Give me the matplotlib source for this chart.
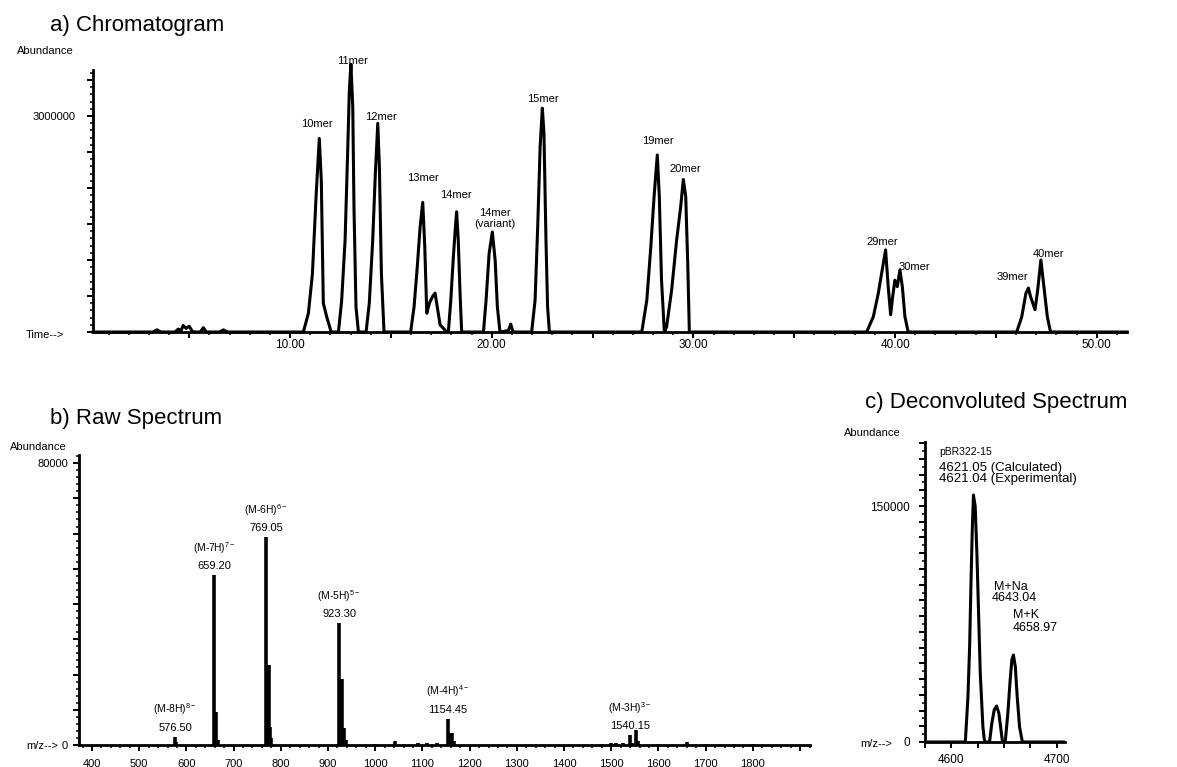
import matplotlib.pyplot as plt
from matplotlib.ticker import MultipleLocator, FuncFormatter

plt.rcParams['font.family'] = ['Liberation Sans', 'DejaVu Sans']
plt.rcParams['mathtext.default'] = 'regular'

W, H = 1177, 767

# a) total ion chromatogram: retention time (min), abundance (millions)
rt = [0.23, 3.2, 3.4, 3.6, 4.3, 4.45, 4.6, 4.7, 4.85, 5.0, 5.15, 5.3,
      5.55, 5.7, 5.85, 6.5, 6.7, 6.9,
      10.66, 10.91, 11.11, 11.29, 11.45, 11.55, 11.65, 11.82, 12.04,
      12.40, 12.56, 12.73, 12.86, 12.94, 13.02, 13.11, 13.17, 13.27, 13.39,
      13.77, 13.93, 14.10, 14.23, 14.35, 14.43, 14.53, 14.66,
      15.98, 16.15, 16.31, 16.45, 16.58, 16.68, 16.78, 16.91, 17.06, 17.19, 17.30, 17.44, 17.77,
      17.85, 17.97, 18.10, 18.20, 18.26, 18.34, 18.43, 18.51,
      19.59, 19.72, 19.87, 20.03, 20.17, 20.28, 20.41, 20.83, 20.94, 21.06,
      21.98, 22.15, 22.28, 22.40, 22.51, 22.59, 22.69, 22.77, 22.86,
      27.44, 27.69, 27.89, 28.05, 28.21, 28.31, 28.42, 28.56,
      28.67, 28.92, 29.17, 29.37, 29.50, 29.62, 29.72, 29.80,
      38.59, 38.92, 39.17, 39.33, 39.53, 39.66, 39.78, 39.88, 39.99, 40.11, 40.24, 40.36, 40.49, 40.65,
      46.03, 46.28, 46.49, 46.61, 46.72, 46.94, 47.07, 47.23, 47.38, 47.55, 47.71,
      51.5]
tic = [0, 0, 0.03, 0, 0, 0.04, 0.02, 0.09, 0.05, 0.08, 0.01, 0,
       0, 0.06, 0, 0, 0.03, 0,
       0, 0.26, 0.81, 1.88, 2.69, 2.11, 0.40, 0.21, 0,
       0, 0.44, 1.28, 2.53, 3.36, 3.72, 3.13, 1.74, 0.35, 0,
       0, 0.40, 1.28, 2.20, 2.90, 2.30, 0.81, 0,
       0, 0.35, 0.91, 1.46, 1.80, 1.19, 0.26, 0.40, 0.49, 0.54, 0.35, 0.10, 0,
       0, 0.44, 1.05, 1.46, 1.67, 1.28, 0.54, 0,
       0, 0.44, 1.09, 1.39, 1.00, 0.35, 0, 0.02, 0.11, 0,
       0, 0.44, 1.46, 2.57, 3.11, 2.76, 1.28, 0.35, 0,
       0, 0.44, 1.19, 1.88, 2.46, 1.88, 0.72, 0,
       0.07, 0.58, 1.28, 1.74, 2.12, 1.88, 0.95, 0,
       0, 0.21, 0.54, 0.81, 1.14, 0.63, 0.24, 0.49, 0.72, 0.63, 0.86, 0.63, 0.21, 0,
       0, 0.21, 0.54, 0.61, 0.49, 0.31, 0.58, 1.00, 0.63, 0.21, 0,
       0]

mer_names = ['10mer', '11mer', '12mer', '13mer', '14mer', '14mer\n(variant)', '15mer',
             '19mer', '20mer', '29mer', '30mer', '39mer', '40mer']
mer_rt = [11.34, 13.09, 14.53, 16.61, 18.23, 20.16, 22.55, 28.25, 29.59, 39.36, 40.96, 45.8, 47.6]
mer_y = [2.89, 3.76, 2.99, 2.14, 1.90, 1.58, 3.24, 2.65, 2.26, 1.25, 0.90, 0.76, 1.08]

# b) raw spectrum sticks
raw_mz = [576.5, 579.0,
          659.2, 663.0, 666.0,
          769.05, 771.5, 774.0, 777.0, 780.0,
          923.3, 927.0, 930.0, 934.0, 938.0,
          1000, 1041, 1060, 1090, 1110, 1130,
          1154.45, 1158, 1162, 1166,
          1480, 1500, 1510, 1525,
          1540.15, 1544, 1552.5, 1557,
          1600, 1660, 1700, 1760, 1800]
raw_abund = [2300, 800,
             48200, 9400, 1500,
             59000, 22700, 22700, 5000, 2000,
             34600, 18700, 18700, 4800, 1500,
             300, 1200, 400, 500, 600, 700,
             7400, 3400, 3400, 1200,
             400, 500, 600, 500,
             2800, 600, 4300, 1000,
             300, 900, 300, 250, 250]

ion_names = ['(M-8H)$^{8-}$', '(M-7H)$^{7-}$', '(M-6H)$^{6-}$',
             '(M-5H)$^{5-}$', '(M-4H)$^{4-}$', '(M-3H)$^{3-}$']
ion_mz = [576.50, 659.20, 769.05, 923.30, 1154.45, 1540.15]

# c) deconvoluted spectrum
dec_mz = [4575, 4613.3, 4615.8, 4617.4, 4618.6, 4619.9, 4621.04, 4622.7, 4624.3, 4625.9,
          4627.5, 4630.0, 4631.6,
          4636.3, 4638.5, 4640.7, 4643.04, 4645.2, 4647.2, 4648.6,
          4651.2, 4653.7, 4655.9, 4657.5, 4658.97, 4660.8, 4662.6, 4664.8, 4667.5,
          4708]
dec_abund = [0, 0, 28800, 60600, 98700, 134700, 157000, 149600, 119900, 81800,
             43600, 9700, 0,
             0, 11900, 20300, 22900, 18200, 7600, 0,
             0, 18200, 39400, 52100, 55300, 47900, 28800, 9700, 0,
             0]


def px_axes(x0, y0, x1, y1):
    return fig.add_axes([x0 / W, 1 - y1 / H, (x1 - x0) / W, (y1 - y0) / H])


def style(ax, ypad, xpad):
    for s in ['top', 'right']:
        ax.spines[s].set_visible(False)
    for s in ['left', 'bottom']:
        ax.spines[s].set_linewidth(2.0)
    ax.tick_params(which='major', direction='out', length=4, width=1.4, labelsize=8)
    ax.tick_params(which='minor', direction='out', length=2.5, width=1.1)
    ax.tick_params(axis='y', pad=ypad)
    ax.tick_params(axis='x', pad=xpad)


fig = plt.figure(figsize=(W / 100, H / 100), dpi=100)

# ---- a) Chromatogram
ax1 = px_axes(93, 70, 1127, 332)
ax1.plot(rt, [v * 1e6 for v in tic], color='black', lw=2.2, clip_on=False, zorder=3)
ax1.set_xlim(0.23, 51.5)
ax1.set_ylim(0, 3.64e6)
style(ax1, 8.9, 1.0)
ax1.xaxis.set_major_locator(MultipleLocator(5))
ax1.xaxis.set_minor_locator(MultipleLocator(1))
ax1.xaxis.set_major_formatter(FuncFormatter(lambda v, p: f"{v:.2f}" if round(v) % 10 == 0 else ""))
ax1.yaxis.set_major_locator(MultipleLocator(500000))
ax1.yaxis.set_minor_locator(MultipleLocator(100000))
ax1.yaxis.set_major_formatter(FuncFormatter(lambda v, p: "3000000" if abs(v - 3e6) < 1 else ""))
ax1.tick_params(axis='x', labelsize=8.5)
for name, x, y in zip(mer_names, mer_rt, mer_y):
    ax1.text(x, y * 1e6, name, ha='center', va='center', fontsize=8, linespacing=1.1)

fig.text(50 / W, 1 - 31 / H, 'a) Chromatogram', fontsize=16, va='baseline')
fig.text(45 / W, 1 - 51 / H, 'Abundance', fontsize=8, ha='center', va='center')
fig.text(45 / W, 1 - 335 / H, 'Time-->', fontsize=8, ha='center', va='center')

# ---- b) Raw spectrum
ax2 = px_axes(79, 455, 810, 745)
ax2.vlines(raw_mz, 0, raw_abund, color='black', lw=2.6)
ax2.set_xlim(372.5, 1921)
ax2.set_ylim(0, 82300)
style(ax2, 3.9, 6.0)
ax2.xaxis.set_major_locator(MultipleLocator(100))
ax2.xaxis.set_minor_locator(MultipleLocator(20))
ax2.xaxis.set_major_formatter(FuncFormatter(lambda v, p: f"{v:.0f}" if 400 <= v <= 1800 else ""))
ax2.yaxis.set_major_locator(MultipleLocator(10000))
ax2.yaxis.set_minor_locator(MultipleLocator(2000))
ax2.yaxis.set_major_formatter(FuncFormatter(lambda v, p: f"{v:.0f}" if v in (0, 80000) else ""))
for name, m in zip(ion_names, ion_mz):
    top = raw_abund[raw_mz.index(round(m, 2))]
    ax2.annotate(f"{m:.2f}", (m, top), xytext=(0, 3), textcoords='offset points',
                 ha='center', va='bottom', fontsize=8)
    ax2.annotate(name, (m, top), xytext=(0, 14), textcoords='offset points',
                 ha='center', va='bottom', fontsize=7.5)

fig.text(50 / W, 1 - 424 / H, 'b) Raw Spectrum', fontsize=16, va='baseline')
fig.text(38 / W, 1 - 447 / H, 'Abundance', fontsize=8, ha='center', va='center')
fig.text(42 / W, 1 - 746 / H, 'm/z-->', fontsize=8, ha='center', va='center')

# ---- c) Deconvoluted spectrum
ax3 = px_axes(925, 442, 1065, 742)
ax3.plot(dec_mz, dec_abund, color='black', lw=2.2)
ax3.set_xlim(4575, 4708)
ax3.set_ylim(0, 190700)
style(ax3, 6.8, 4.6)
ax3.xaxis.set_major_locator(MultipleLocator(25))
ax3.xaxis.set_major_formatter(FuncFormatter(lambda v, p: f"{v:.0f}" if round(v) % 100 == 0 else ""))
ax3.yaxis.set_major_locator(MultipleLocator(10000))
ax3.yaxis.set_minor_locator(MultipleLocator(5000))
ax3.yaxis.set_major_formatter(FuncFormatter(lambda v, p: f"{v:.0f}" if v in (0, 150000) else ""))
ax3.tick_params(axis='both', labelsize=8.5)

ax3.text(4588.6, 184300, 'pBR322-15', fontsize=7.5, va='center', ha='left')
ax3.text(4588.6, 174200, f'{4621.05:.2f} (Calculated)', fontsize=9.5, va='center', ha='left')
ax3.text(4588.6, 167200, f'{dec_mz[6]:.2f} (Experimental)', fontsize=9.5, va='center', ha='left')
ax3.text(4640.7, 98500, 'M+Na', fontsize=9, va='center', ha='left')
ax3.text(4638.8, 91500, f'{dec_mz[16]:.2f}', fontsize=9, va='center', ha='left')
ax3.text(4658.7, 80700, 'M+K', fontsize=9, va='center', ha='left')
ax3.text(4658.7, 72500, f'{dec_mz[24]:.2f}', fontsize=9, va='center', ha='left')

fig.text(865 / W, 1 - 408 / H, 'c) Deconvoluted Spectrum', fontsize=16, va='baseline')
fig.text(872 / W, 1 - 433 / H, 'Abundance', fontsize=8, ha='center', va='center')
fig.text(876 / W, 1 - 744 / H, 'm/z-->', fontsize=8, ha='center', va='center')

fig.savefig('out.png', dpi=100)
